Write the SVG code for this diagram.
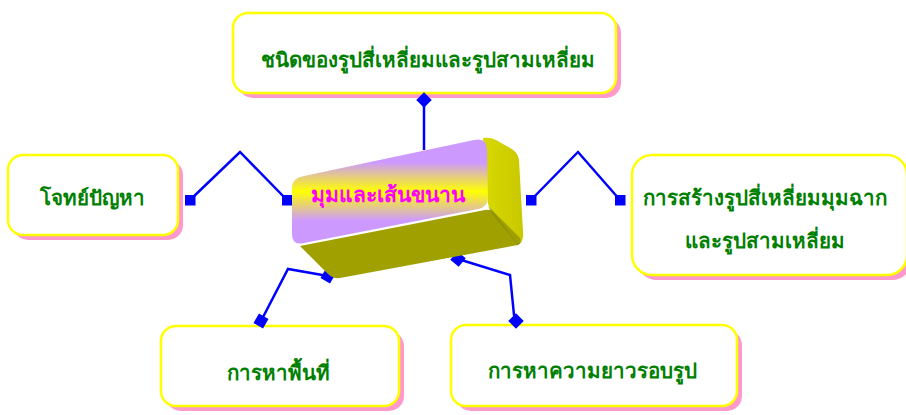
<svg xmlns="http://www.w3.org/2000/svg" width="906" height="415" viewBox="0 0 906 415">
<defs>
<style>
.shadow{fill:#FF99CC}
.box{fill:#FFFFFF;stroke:#FFFF00;stroke-width:2.5}
.lbl{font-family:"Liberation Serif","DejaVu Serif",serif;font-weight:bold;font-size:20.5px;fill:#008000;text-anchor:middle}
.ctr{font-family:"Liberation Serif","DejaVu Serif",serif;font-weight:bold;font-size:21px;fill:#FF00FF;text-anchor:middle}
.wire{fill:none;stroke:#0000FF;stroke-width:2.5}
.end{fill:#0000FF}
</style>
<linearGradient id="front" x1="0" y1="0" x2="0" y2="1">
<stop offset="0" stop-color="#CC99FF"/>
<stop offset="0.22" stop-color="#CC99FF"/>
<stop offset="0.5" stop-color="#FFFF00"/>
<stop offset="0.78" stop-color="#CC99FF"/>
<stop offset="1" stop-color="#CC99FF"/>
</linearGradient>
<linearGradient id="side" x1="0" y1="0" x2="1" y2="0">
<stop offset="0" stop-color="#D8D800"/>
<stop offset="1" stop-color="#C8C800"/>
</linearGradient>
</defs>
<g id="node-top">
<rect class="shadow" x="238" y="18" width="383" height="80" rx="15"/>
<rect class="box" x="233" y="13" width="383" height="80" rx="15"/>
<text class="lbl" x="428" y="67">ชนิดของรูปสี่เหลี่ยมและรูปสามเหลี่ยม</text>
</g>
<g id="node-left">
<rect class="shadow" x="13" y="160" width="170" height="80" rx="15"/>
<rect class="box" x="8" y="155" width="170" height="80" rx="15"/>
<text class="lbl" x="92" y="205">โจทย์ปัญหา</text>
</g>
<g id="node-right">
<rect class="shadow" x="637" y="160" width="275" height="120" rx="20"/>
<rect class="box" x="632" y="155" width="275" height="120" rx="20"/>
<text class="lbl" x="765" y="205">การสร้างรูปสี่เหลี่ยมมุมฉาก</text>
<text class="lbl" x="765" y="248">และรูปสามเหลี่ยม</text>
</g>
<g id="node-bottom-left">
<rect class="shadow" x="166" y="331" width="238" height="80" rx="15"/>
<rect class="box" x="161" y="326" width="238" height="80" rx="15"/>
<text class="lbl" x="278" y="380">การหาพื้นที่</text>
</g>
<g id="node-bottom-right">
<rect class="shadow" x="456" y="330" width="286" height="81" rx="15"/>
<rect class="box" x="451" y="325" width="286" height="81" rx="15"/>
<text class="lbl" x="592" y="378">การหาความยาวรอบรูป</text>
</g>
<g id="connectors">
<polyline class="wire" points="424,100 424,150"/>
<rect class="end" x="418.5" y="94.5" width="11" height="11" transform="rotate(45 424 100)"/>
<polyline class="wire" points="190,200 240,152 287,200"/>
<rect class="end" x="185" y="195" width="10.5" height="10.5"/>
<rect class="end" x="282" y="195" width="10.5" height="10.5"/>
<polyline class="wire" points="531,200 578,152 620,200"/>
<rect class="end" x="526" y="195" width="10.5" height="10.5"/>
<rect class="end" x="615" y="195" width="10.5" height="10.5"/>
<polyline class="wire" points="261,321 288,269 328,276"/>
<rect class="end" x="255.5" y="315.5" width="11" height="11" transform="rotate(30 261 321)"/>
<rect class="end" x="322.5" y="270.5" width="11" height="11" transform="rotate(30 328 276)"/>
<polyline class="wire" points="458,259 510,275 514,315 516,321"/>
<rect class="end" x="452.5" y="253.5" width="11" height="11" transform="rotate(40 458 259)"/>
<rect class="end" x="510.5" y="315.5" width="11" height="11" transform="rotate(45 516 321)"/>
</g>
<g id="node-center">
<path d="M300,246 L485,210 Q492,209 497,214 L520,236 Q524,242 518,245 L340,278 Q333,279 328,274 Z" fill="#A0A000"/>
<path d="M483,138 Q490,137 496,140 L510,148 Q518,152 519,160 L523,232 Q524,242 518,244 L495,214 Q490,210 488,204 Z" fill="url(#side)"/>
<path d="M488,206 L520,238 Q522,243 518,245 L492,214 Z" fill="#8C8C00" opacity="0.7"/>
<path d="M304,176 L474,140 Q487,137 487,150 L488,197 Q488,207 478,209 L304,243 Q292,246 292,234 L292,188 Q292,178 304,176 Z" fill="url(#front)"/>
<text class="ctr" x="388" y="202">มุมและเส้นขนาน</text>
</g>
</svg>
